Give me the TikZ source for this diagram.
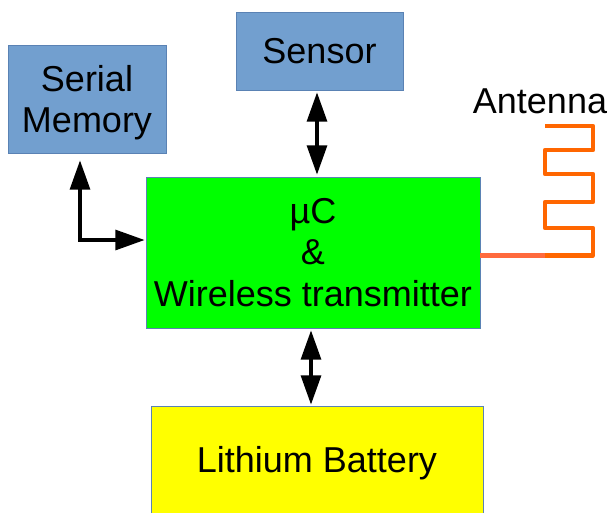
\documentclass[tikz,border=0pt]{standalone}
\usepackage{fontspec}
\setmainfont{Liberation Sans}
\usetikzlibrary{arrows.meta}
\definecolor{memblue}{HTML}{729FCF}
\definecolor{edgeblue}{HTML}{5A82B4}
\definecolor{chipgreen}{HTML}{00FF00}
\definecolor{battyellow}{HTML}{FFFF00}
\definecolor{antorange}{HTML}{FF6600}
\definecolor{feedorange}{HTML}{FF6A3D}
\tikzset{
  block/.style={draw=edgeblue, line width=0.6pt, align=center, inner sep=0pt,
    font=\fontsize{27}{31}\selectfont},
  dbl/.style={line width=2.4pt, {Triangle[width=15pt,length=22pt]}-{Triangle[width=15pt,length=22pt]}},
  sgl/.style={line width=2.4pt, -{Triangle[width=15pt,length=22pt]}},
}
\begin{document}
\begin{tikzpicture}[x=0.75pt,y=-0.75pt]
\useasboundingbox (0,0) rectangle (611,512);
\node[block, fill=memblue, minimum width=158*0.75pt, minimum height=108*0.75pt, text depth=0pt] (mem) at (87,99){Serial\\Memory};
\node[block, fill=memblue, minimum width=167*0.75pt, minimum height=78*0.75pt] (sensor) at (319.5,51){Sensor};
\node[block, fill=chipgreen, minimum width=334*0.75pt, minimum height=151*0.75pt] (uc) at (313,252.5){µC\\\&\\Wireless transmitter};
\node[block, fill=battyellow, minimum width=332*0.75pt, minimum height=114*0.75pt] (batt) at (317,463){Lithium Battery};
\node[font=\fontsize{27}{31}\selectfont] (ant) at (540,101){Antenna};
% links
\coordinate (corner) at (80,240);
\draw[sgl, shorten >=7*0.75pt] (corner) -- (mem.south -| corner);
\draw[sgl, shorten >=1*0.75pt] ([xshift=-1.2pt]corner) -- (corner -| uc.west);
\draw[dbl, shorten <=2*0.75pt, shorten >=2*0.75pt] ([xshift=-2.5*0.75pt]sensor.south) -- ([xshift=-2.5*0.75pt]sensor.south |- uc.north);
\draw[dbl, shorten <=2*0.75pt, shorten >=1*0.75pt] ([xshift=-2*0.75pt]uc.south) -- ([xshift=-2*0.75pt]uc.south |- batt.north);
% antenna
\coordinate (feed) at (545,255.5);
\draw[feedorange, line width=3.2pt] (uc.east |- feed) -- (feed);
\draw[antorange, line width=3.2pt, line join=round]
  (545,126) -- (593,126) -- (593,150) -- (545,150) -- (545,174) -- (593,174)
  -- (593,202) -- (545,202) -- (545,228) -- (593,228) -- (593,255.5) -- (feed);
\end{tikzpicture}
\end{document}
